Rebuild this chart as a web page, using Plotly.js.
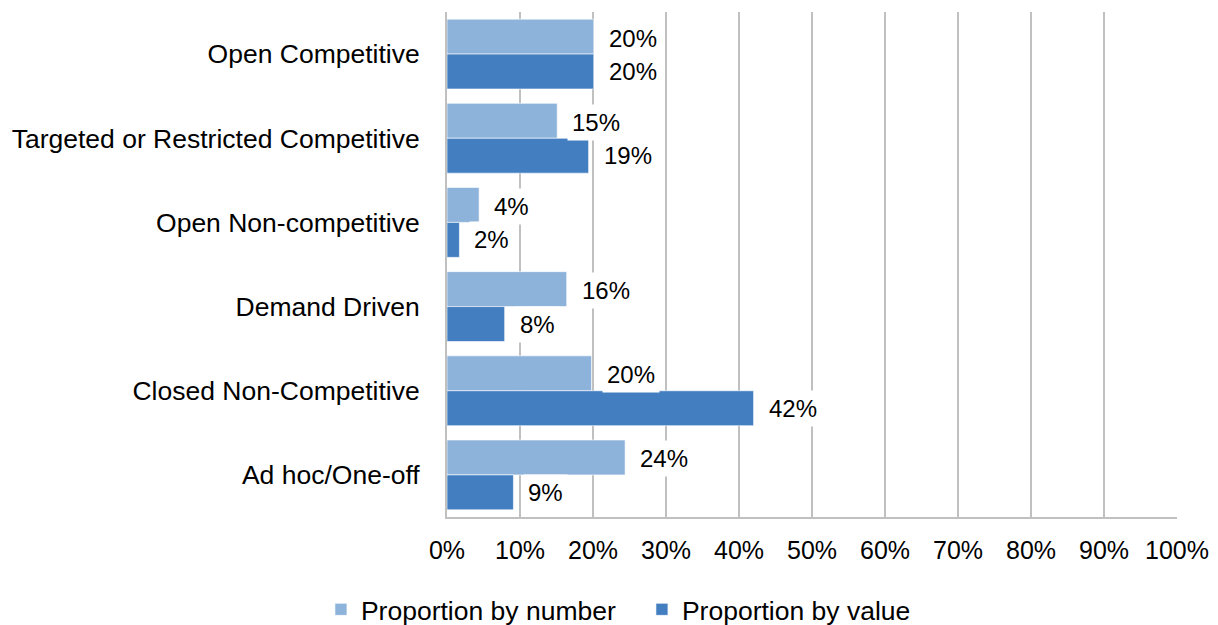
<!DOCTYPE html>
<html>
<head>
<meta charset="utf-8">
<script src="https://cdn.plot.ly/plotly-3.0.1.min.js"></script>
<style>html,body{margin:0;padding:0;background:#fff;}#chart{width:1218px;height:625px;}</style>
</head>
<body>
<div id="chart"></div>
<script>
const categories = ["Open Competitive", "Targeted or Restricted Competitive", "Open Non-competitive", "Demand Driven", "Closed Non-Competitive", "Ad hoc/One-off"];
const byNumber = [20.1, 15.1, 4.4, 16.4, 19.8, 24.4];
const byValue = [20.1, 19.4, 1.7, 7.9, 42.0, 9.1];
const seriesNames = ["Proportion by number", "Proportion by value"];
const xTicks = [0, 10, 20, 30, 40, 50, 60, 70, 80, 90, 100];

const colors = ["#8eb3da", "#437ec1"];
const font = "Liberation Sans, Arial, sans-serif";

const traces = [byNumber, byValue].map((vals, i) => ({
  type: "bar",
  orientation: "h",
  name: seriesNames[i],
  y: categories,
  x: vals,
  marker: {color: colors[i], line: {color: "rgba(255,255,255,0.6)", width: 1}},
  hoverinfo: "x+y"
}));

const annotations = [];
[byNumber, byValue].forEach((vals, i) => {
  vals.forEach((v, j) => {
    annotations.push({
      x: v, y: categories[j], xref: "x", yref: "y",
      text: Math.round(v) + "%",
      showarrow: false, xanchor: "left", yanchor: "middle",
      xshift: 10, yshift: i === 0 ? 16 : -17.5,
      bgcolor: "#ffffff", borderpad: 4,
      font: {family: font, size: 24, color: "#000"}
    });
  });
});

const layout = {
  width: 1218, height: 625,
  margin: {l: 447, r: 41, t: 12, b: 108, autoexpand: false},
  paper_bgcolor: "#fff", plot_bgcolor: "#fff",
  barmode: "group", bargap: 0.17, bargroupgap: 0,
  font: {family: font, size: 26, color: "#000"},
  xaxis: {
    range: [0, 100], tickvals: xTicks, ticktext: xTicks.map(t => t + "%"),
    showgrid: true, gridcolor: "#c0c0c0", gridwidth: 2,
    showline: true, linecolor: "#c0c0c0", linewidth: 2,
    zeroline: false, ticks: "", ticklabelstandoff: 10,
    tickfont: {family: font, size: 25, color: "#000"},
    automargin: false, fixedrange: true
  },
  yaxis: {
    type: "category", autorange: "reversed",
    showgrid: false, showline: true, linecolor: "#c0c0c0", linewidth: 2,
    ticks: "", ticklabelstandoff: 20,
    tickfont: {family: font, size: 26.5, color: "#000"},
    automargin: false, fixedrange: true
  },
  legend: {
    orientation: "h", x: 0.2635, xanchor: "left", xref: "container",
    y: 0.063, yanchor: "top", yref: "container",
    font: {family: font, size: 26.5, color: "#000"},
    itemwidth: 30, traceorder: "normal",
    entrywidth: 276, entrywidthmode: "pixels"
  },
  annotations: annotations,
  showlegend: true
};

Plotly.newPlot("chart", traces, layout, {displayModeBar: false, staticPlot: true});
</script>
</body>
</html>
